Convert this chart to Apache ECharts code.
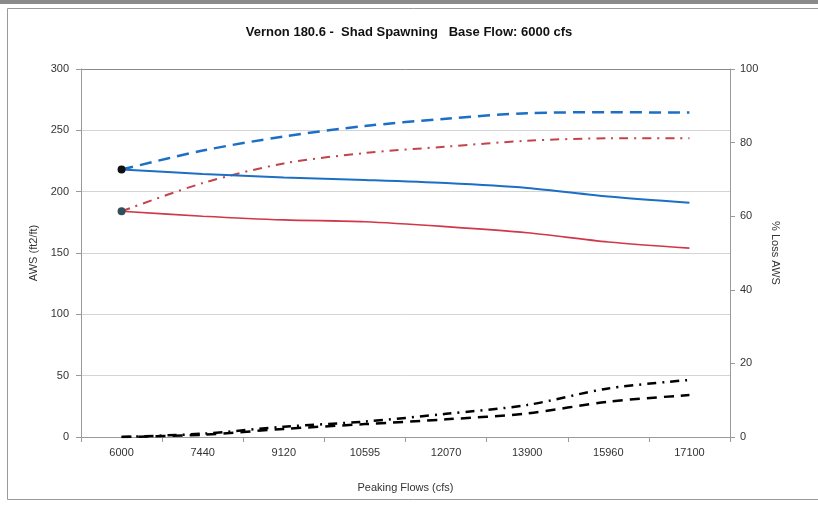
<!DOCTYPE html>
<html>
<head>
<meta charset="utf-8">
<script src="https://cdn.jsdelivr.net/npm/echarts@6/dist/echarts.min.js"></script>
<style>html,body{margin:0;padding:0;background:#fff}#c{width:818px;height:507px}</style>
</head>
<body>
<div id="c"></div>
<script>
var categories = ['6000','7440','9120','10595','12070','13900','15960','17100'];
var awsPeak = [218, 214.5, 211.5, 209.5, 207, 203, 196, 191];
var awsPeakRed = [184, 180, 177, 175.5, 171.5, 166.5, 159, 154];
var awsBaseBlue = [218, 233.5, 245, 253.5, 259.5, 264, 264.7, 264.5];
var awsBaseRed = [184, 207, 223, 231.5, 236.7, 241.5, 243.5, 243.5];
var lossDashDot = [0, 0.9, 2.8, 4.2, 6.3, 8.7, 13.2, 15.5];
var lossDashed = [0, 0.6, 2.2, 3.5, 4.8, 6.4, 9.6, 11.4];
var leftTicks = [0, 50, 100, 150, 200, 250, 300];
var rightTicks = [0, 20, 40, 60, 80, 100];

function firstMarked(arr, color) {
  return arr.map(function (v, i) {
    return i === 0 ? { value: v, symbol: 'circle', symbolSize: 8, itemStyle: { color: color } } : { value: v, symbol: 'none' };
  });
}

var chart = echarts.init(document.getElementById('c'), null, { renderer: 'canvas' });
var font = 'Liberation Sans, Arial, sans-serif';
chart.setOption({
  animation: false,
  backgroundColor: '#ffffff',
  graphic: [
    { type: 'rect', shape: { x: 0, y: 0, width: 818, height: 4 }, style: { fill: '#8a8a8a' }, silent: true },
    { type: 'rect', shape: { x: 7.5, y: 8.5, width: 820, height: 491 }, style: { fill: 'none', stroke: '#9a9a9a', lineWidth: 1 }, silent: true }
  ],
  title: {
    text: 'Vernon 180.6 -  Shad Spawning   Base Flow: 6000 cfs',
    left: 'center', top: 21,
    textStyle: { fontFamily: font, fontSize: 13, fontWeight: 'bold', color: '#111' }
  },
  grid: { left: 81, right: 88, top: 69, bottom: 70 },
  xAxis: {
    type: 'category', data: categories, boundaryGap: true,
    name: 'Peaking Flows (cfs)', nameLocation: 'middle', nameGap: 45,
    nameTextStyle: { fontFamily: font, fontSize: 11, color: '#333' },
    axisLine: { lineStyle: { color: '#9a9a9a' } },
    axisTick: { show: true, alignWithLabel: false, length: 5, lineStyle: { color: '#9a9a9a' } },
    axisLabel: { fontFamily: font, fontSize: 11, color: '#333', margin: 10 }
  },
  yAxis: [
    {
      type: 'value', min: 0, max: 300, interval: 50, position: 'left',
      name: 'AWS (ft2/ft)', nameLocation: 'middle', nameGap: 38, nameRotate: 90,
      nameTextStyle: { fontFamily: font, fontSize: 11, color: '#333' },
      axisLine: { show: true, lineStyle: { color: '#9a9a9a' } },
      axisTick: { show: true, length: 5, lineStyle: { color: '#9a9a9a' } },
      axisLabel: { fontFamily: font, fontSize: 11, color: '#333', margin: 12 },
      splitLine: { show: true, lineStyle: { color: ['#9a9a9a', '#d4d4d4', '#d4d4d4', '#d4d4d4', '#d4d4d4', '#d4d4d4', '#8a8a8a'], width: 1 } }
    },
    {
      type: 'value', min: 0, max: 100, interval: 20, position: 'right',
      name: '% Loss AWS', nameLocation: 'middle', nameGap: 40, nameRotate: -90,
      nameTextStyle: { fontFamily: font, fontSize: 11, color: '#333' },
      axisLine: { show: true, lineStyle: { color: '#9a9a9a' } },
      axisTick: { show: true, length: 5, lineStyle: { color: '#9a9a9a' } },
      axisLabel: { fontFamily: font, fontSize: 11, color: '#333', margin: 10 },
      splitLine: { show: false }
    }
  ],
  series: [
    { name: 'AWS Base Blue', type: 'line', yAxisIndex: 0, smooth: 0.3, symbol: 'none', data: awsBaseBlue,
      lineStyle: { color: '#1c6fc4', width: 2.5, type: [12, 7] }, z: 3 },
    { name: 'AWS Base Red', type: 'line', yAxisIndex: 0, smooth: 0.3, symbol: 'none', data: awsBaseRed,
      lineStyle: { color: '#c2444a', width: 2, type: [9, 6, 2, 6] }, z: 3 },
    { name: 'AWS Peak Blue', type: 'line', yAxisIndex: 0, smooth: 0.3, data: firstMarked(awsPeak, '#111111'),
      itemStyle: { color: '#111111' }, lineStyle: { color: '#1c6fc4', width: 2 }, z: 4 },
    { name: 'AWS Peak Red', type: 'line', yAxisIndex: 0, smooth: 0.3, data: firstMarked(awsPeakRed, '#2f4f5a'),
      itemStyle: { color: '#2f4f5a' }, lineStyle: { color: '#d0384a', width: 1.6 }, z: 4 },
    { name: 'Loss DashDot', type: 'line', yAxisIndex: 1, smooth: 0.3, symbol: 'none', data: lossDashDot,
      lineStyle: { color: '#000000', width: 2.5, type: [9, 6, 2, 6] }, z: 3 },
    { name: 'Loss Dashed', type: 'line', yAxisIndex: 1, smooth: 0.3, symbol: 'none', data: lossDashed,
      lineStyle: { color: '#000000', width: 2.5, type: [10, 7] }, z: 3 }
  ]
});
</script>
</body>
</html>
